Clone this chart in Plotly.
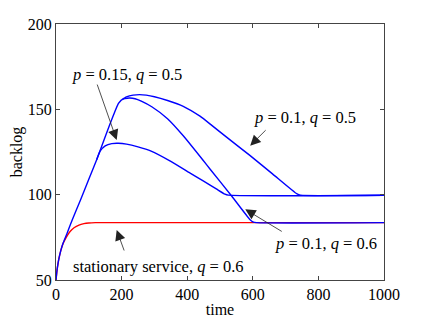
import plotly.graph_objects as go

# --- data ---
red_x = [0, 3, 6, 10, 15, 22, 32, 43, 55, 70, 85, 100, 120, 1000]
red_y = [50, 55.5, 59.5, 63.5, 67.5, 71.5, 75.3, 78.4, 80.6, 82.2, 83.0, 83.4, 83.6, 83.6]

shared_x = [0, 3, 6, 10, 15, 22, 33, 50, 75, 100, 124, 150, 175, 190, 200]
shared_y = [50, 55.5, 59.5, 63.5, 67.5, 71.8, 77, 85.5, 97, 109, 120.5, 134, 146.5, 153.3, 155.6]

p15_x = [124, 135, 150, 170, 190, 215, 250, 290, 350, 409, 450, 490, 515, 525, 1000]
p15_y = [120.5, 125.6, 128.6, 129.9, 130.1, 129.6, 128, 125.5, 119.5, 112.6, 107.9, 103.2, 100.3, 99.7, 99.7]

q06_x = [200, 210, 225, 241, 260, 292, 340, 388, 449, 470, 536, 591, 600, 612, 1000]
q06_y = [155.6, 156.3, 156.6, 156.2, 154.8, 151.5, 144.5, 134.5, 120.0, 114.9, 99.1, 85.5, 84.1, 83.6, 83.6]

q05_x = [200, 215, 235, 255, 275, 300, 340, 388, 439, 475, 520, 591, 660, 735, 745, 1000]
q05_y = [155.6, 157.3, 158.3, 158.6, 158.3, 157.4, 155.2, 151.8, 146.0, 140.6, 133.7, 123.0, 112.2, 100.4, 99.7, 99.7]

x_ticks = [0, 200, 400, 600, 800, 1000]
y_ticks = [50, 100, 150, 200]

BLUE = "#0000ff"
RED = "#ff0000"
FONT = "Liberation Serif, Times New Roman, Times, DejaVu Serif, serif"
FS = 16

fig = go.Figure()
lw = 1.4
sp = dict(shape="spline", smoothing=0.5)
fig.add_trace(go.Scatter(x=red_x, y=red_y, mode="lines", line=dict(color=RED, width=lw, **sp)))
fig.add_trace(go.Scatter(x=shared_x, y=shared_y, mode="lines", line=dict(color=BLUE, width=lw, **sp)))
fig.add_trace(go.Scatter(x=p15_x, y=p15_y, mode="lines", line=dict(color=BLUE, width=lw, **sp)))
fig.add_trace(go.Scatter(x=q06_x, y=q06_y, mode="lines", line=dict(color=BLUE, width=lw, **sp)))
fig.add_trace(go.Scatter(x=q05_x, y=q05_y, mode="lines", line=dict(color=BLUE, width=lw, **sp)))

tf = dict(family=FONT, size=16.5, color="black")
texts = [
    (216, 170.7, "<i>p</i> = 0.15, <i>q</i> = 0.5"),
    (759, 145.5, "<i>p</i> = 0.1, <i>q</i> = 0.5"),
    (822, 71.5, "<i>p</i> = 0.1, <i>q</i> = 0.6"),
    (314, 58.2, "stationary service, <i>q</i> = 0.6"),
]
for x, y, t in texts:
    fig.add_annotation(x=x, y=y, text=t, showarrow=False, font=tf, xanchor="center", yanchor="middle")

arrows = [
    (185, 132, -20, -57),
    (592, 128.7, 17, -17),
    (577, 91.4, 38, 23),
    (185, 79.3, 8, 22),
]
for x, y, ax, ay in arrows:
    fig.add_annotation(x=x, y=y, ax=ax, ay=ay, text="", showarrow=True,
                       arrowhead=2, arrowsize=2.6, arrowwidth=0.8, arrowcolor="#222222")

axis_common = dict(showline=True, linecolor="#444444", linewidth=1, mirror="ticks",
                   ticks="inside", ticklen=4, tickcolor="#444444", showgrid=False, zeroline=False,
                   tickfont=dict(family=FONT, size=FS, color="black"))
fig.update_xaxes(range=[0, 1000], tickvals=x_ticks, **axis_common,
                 title=dict(text="time", font=dict(family=FONT, size=FS, color="black"), standoff=1))
fig.update_yaxes(range=[50, 200], tickvals=y_ticks, **axis_common,
                 title=dict(text="backlog", font=dict(family=FONT, size=FS, color="black"), standoff=8))
# page body adds an 8px offset, so the figure is sized/margined to land the plot area where the reference has it
fig.update_layout(width=416, height=311, showlegend=False, plot_bgcolor="white", paper_bgcolor="white",
                  margin=dict(l=48, r=40, t=16, b=39, autoexpand=False))
fig.write_html("out.html")
